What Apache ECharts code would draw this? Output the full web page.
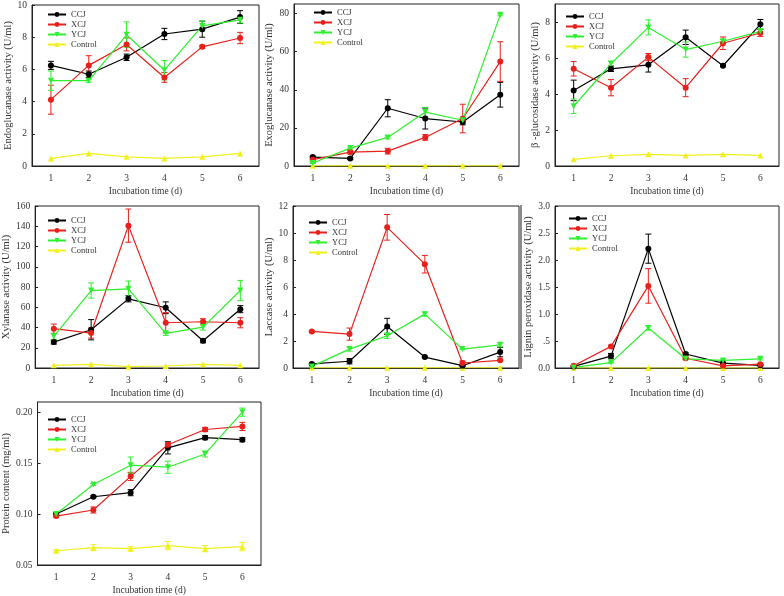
<html>

<head>
    <script src="https://cdn.jsdelivr.net/npm/echarts@6.0.0/dist/echarts.min.js"></script>

    <style>
        body {
            margin: 0
        }
        #chart {
            width: 784px;
            height: 596px;
        }
    </style>
</head>

<body>
    <div id="chart"></div>

    <script>
        // incubation days + groups
        const days = ['1', '2', '3', '4', '5', '6'];
        const groups = ['CCJ', 'XCJ', 'YCJ', 'Control'];

        // rows: CCJ, XCJ, YCJ, Control
        const endoMean = [
            [6.25, 5.7, 6.75, 8.2, 8.5, 9.25],
            [4.12, 6.25, 7.55, 5.5, 7.4, 7.95],
            [5.3, 5.3, 8.15, 5.95, 8.7, 9.08],
            [0.47, 0.78, 0.57, 0.47, 0.57, 0.78]
        ];
        const endoErr = [
            [0.25, 0.2, 0.2, 0.35, 0.5, 0.4],
            [0.9, 0.6, 0.4, 0.3, 0.1, 0.35],
            [0.6, 0.1, 0.8, 0.6, 0.3, 0.2],
            [0, 0, 0, 0, 0, 0]
        ];

        const exoMean = [
            [4.7, 4.0, 30.3, 24.9, 23.1, 37.4],
            [3.3, 7.3, 7.8, 15.0, 24.9, 54.8],
            [1.6, 9.4, 15.0, 28.3, 24.0, 79.3],
            [0.1, 0.1, 0.1, 0.1, 0.1, 0.1]
        ];
        const exoErr = [
            [0.5, 0.5, 4.5, 5.5, 1.5, 6.5],
            [0.5, 1, 1.5, 1.5, 7.5, 10.4],
            [0.3, 0.5, 0.8, 2.5, 1.5, 0.5],
            [0, 0, 0, 0, 0, 0]
        ];

        const gluMean = [
            [4.2, 5.4, 5.62, 7.15, 5.57, 7.87],
            [5.4, 4.35, 6.05, 4.35, 6.82, 7.39],
            [3.32, 5.68, 7.7, 6.47, 6.93, 7.48],
            [0.37, 0.57, 0.65, 0.59, 0.65, 0.59]
        ];
        const gluErr = [
            [0.57, 0.15, 0.4, 0.4, 0.05, 0.27],
            [0.4, 0.45, 0.2, 0.5, 0.35, 0.2],
            [0.4, 0.15, 0.42, 0.42, 0.1, 0.15],
            [0, 0, 0, 0, 0, 0]
        ];

        const xylMean = [
            [25.6, 37.8, 68.3, 59.5, 26.9, 58.1],
            [38.8, 34.5, 140.6, 44.7, 45.7, 44.7],
            [31.2, 76.5, 78.2, 34.2, 40.4, 76.5],
            [2.6, 3.6, 1.3, 2.0, 3.6, 2.6]
        ];
        const xylErr = [
            [2, 10, 3, 5.8, 2, 3.5],
            [4.6, 5, 16.4, 10, 3, 5],
            [3, 7.5, 7.7, 2, 3, 10],
            [0, 0, 0, 0, 0, 0]
        ];

        const lacMean = [
            [0.3, 0.5, 3.08, 0.81, 0.17, 1.18],
            [2.71, 2.51, 10.42, 7.69, 0.37, 0.57],
            [0.12, 1.4, 2.39, 3.99, 1.4, 1.72],
            [0.02, 0.02, 0.02, 0.02, 0.02, 0.02]
        ];
        const lacErr = [
            [0.05, 0.2, 0.6, 0.05, 0.05, 0.35],
            [0.05, 0.45, 0.95, 0.65, 0.15, 0.05],
            [0.05, 0.15, 0.2, 0.15, 0.05, 0.15],
            [0, 0, 0, 0, 0, 0]
        ];

        const lipMean = [
            [0.03, 0.22, 2.21, 0.26, 0.09, 0.05],
            [0.04, 0.40, 1.52, 0.18, 0.04, 0.07],
            [0.01, 0.10, 0.74, 0.17, 0.14, 0.17],
            [0, 0, 0, 0, 0, 0]
        ];
        const lipErr = [
            [0.01, 0.05, 0.27, 0.02, 0.01, 0.01],
            [0.01, 0.02, 0.32, 0.02, 0.01, 0.01],
            [0, 0.01, 0.04, 0.02, 0.01, 0.02],
            [0, 0, 0, 0, 0, 0]
        ];

        const proMean = [
            [0.100, 0.117, 0.121, 0.165, 0.175, 0.173],
            [0.098, 0.104, 0.137, 0.168, 0.183, 0.186],
            [0.100, 0.129, 0.148, 0.146, 0.159, 0.200],
            [0.064, 0.067, 0.066, 0.069, 0.066, 0.068]
        ];
        const proErr = [
            [0.001, 0.001, 0.003, 0.006, 0.002, 0.002],
            [0.001, 0.003, 0.004, 0.002, 0.002, 0.004],
            [0.001, 0.001, 0.008, 0.006, 0.003, 0.004],
            [0.001, 0.003, 0.002, 0.004, 0.003, 0.004]
        ];

        const colors = ['#000000', '#e8201c', '#2ef02e', '#f0f01e'];
        const symbols = ['circle', 'circle', 'triangle', 'triangle'];
        const rotates = [0, 0, 180, 0];
        const font = 'Liberation Serif';
        const textColor = '#333';

        const panels = [
            { name: 'Endoglucanase activity (U/ml)', mean: endoMean, err: endoErr, min: 0, max: 10, step: 2,
              box: [32, 4, 227, 162], legend: [47, 10], gap: 16 },
            { name: 'Exoglucanase activity (U/ml)', mean: exoMean, err: exoErr, min: 0, max: 85, step: 20,
              box: [294, 4, 225, 162], legend: [313, 8], gap: 19 },
            { name: 'β -glucosidase activity (U/ml)', mean: gluMean, err: gluErr, min: 0, max: 9, step: 2,
              box: [555, 4, 224, 162], legend: [565, 12], gap: 14 },
            { name: 'Xylanase activity (U/ml)', mean: xylMean, err: xylErr, min: 0, max: 160, step: 20,
              box: [32, 206, 227, 162], legend: [47, 216], gap: 18 },
            { name: 'Laccase activity (U/ml)', mean: lacMean, err: lacErr, min: 0, max: 12, step: 2,
              box: [293, 206, 226, 162], legend: [308, 218], gap: 16 },
            { name: 'Lignin peroxidase activity (U/ml)', mean: lipMean, err: lipErr, min: 0, max: 3, step: 0.5,
              box: [555, 206, 224, 162], legend: [568, 214], gap: 18,
              fmt: v => v === 0 ? '0.0' : (v < 1 ? '.5' : v.toFixed(1)) },
            { name: 'Protein content (mg/ml)', mean: proMean, err: proErr, min: 0.05, max: 0.21, step: 0.05,
              box: [33, 402, 228, 163], legend: [47, 415], gap: 17,
              fmt: v => v.toFixed(2) }
        ];

        const errBars = (params, api) => {
            const x = api.value(0);
            const m = api.value(1);
            const e = api.value(2);
            if (!e) return;
            const hi = api.coord([x, m + e]);
            const lo = api.coord([x, m - e]);
            const w = 3;
            const style = { stroke: api.visual('color'), lineWidth: 1 };
            return {
                type: 'group',
                children: [
                    { type: 'line', shape: { x1: hi[0], y1: hi[1], x2: lo[0], y2: lo[1] }, style },
                    { type: 'line', shape: { x1: hi[0] - w, y1: hi[1], x2: hi[0] + w, y2: hi[1] }, style },
                    { type: 'line', shape: { x1: lo[0] - w, y1: lo[1], x2: lo[0] + w, y2: lo[1] }, style }
                ]
            };
        };

        const grid = [], xAxis = [], yAxis = [], series = [], legend = [];

        panels.forEach((p, i) => {
            grid.push({
                left: p.box[0], top: p.box[1], width: p.box[2], height: p.box[3],
                show: true, borderColor: '#222', borderWidth: 1
            });
            xAxis.push({
                type: 'category', gridIndex: i, data: days, boundaryGap: true,
                name: 'Incubation time (d)', nameLocation: 'middle', nameGap: 20,
                nameTextStyle: { fontFamily: font, fontSize: 9.5, color: textColor },
                axisLine: { lineStyle: { color: '#222' } },
                axisTick: { inside: true, alignWithLabel: true, length: 3, lineStyle: { color: '#222' } },
                axisLabel: { fontFamily: font, fontSize: 9.5, color: textColor, margin: 7 },
                splitLine: { show: false }
            });
            yAxis.push({
                type: 'value', gridIndex: i, min: p.min, max: p.max, interval: p.step,
                name: p.name, nameLocation: 'middle', nameGap: p.gap, nameRotate: 90,
                nameTextStyle: { fontFamily: font, fontSize: 10.5, color: textColor },
                axisLine: { show: true, lineStyle: { color: '#222' } },
                axisTick: { show: true, inside: true, length: 3, lineStyle: { color: '#222' } },
                axisLabel: {
                    fontFamily: font, fontSize: 9.5, color: textColor, margin: 5,
                    showMaxLabel: Number.isInteger(Math.round((p.max - p.min) / p.step * 1000) / 1000),
                    formatter: p.fmt
                },
                splitLine: { show: false }
            });
            legend.push({
                data: groups, orient: 'vertical', left: p.legend[0], top: p.legend[1],
                padding: 0, itemWidth: 18, itemHeight: 6, itemGap: 1,
                textStyle: { fontFamily: font, fontSize: 8.5, color: textColor, lineHeight: 8 },
                selectedMode: false
            });
            groups.forEach((g, k) => {
                series.push({
                    name: g, type: 'line', xAxisIndex: i, yAxisIndex: i,
                    data: p.mean[k],
                    symbol: symbols[k], symbolRotate: rotates[k], symbolSize: 6,
                    showAllSymbol: true,
                    lineStyle: { color: colors[k], width: 1.2 },
                    itemStyle: { color: colors[k] },
                    z: 3 + (k === 3 ? 0 : 1),
                    animation: false
                });
                series.push({
                    name: g + ' err', type: 'custom', xAxisIndex: i, yAxisIndex: i,
                    data: p.mean[k].map((v, j) => [j, v, p.err[k][j]]),
                    encode: { x: 0, y: 1 },
                    renderItem: errBars,
                    itemStyle: { color: colors[k] },
                    z: 4,
                    animation: false
                });
            });
        });

        const chartDom = document.getElementById('chart');
        const myChart = echarts.init(chartDom);

        myChart.setOption({
            backgroundColor: '#fff',
            animation: false,
            grid: grid,
            xAxis: xAxis,
            yAxis: yAxis,
            legend: legend,
            series: series,
            graphic: [
                // grey strip left of the lignin peroxidase panel
                { type: 'rect', shape: { x: 520, y: 205, width: 2, height: 164 }, style: { fill: '#8a8a8a' } }
            ]
        });
    </script>
</body>

</html>
